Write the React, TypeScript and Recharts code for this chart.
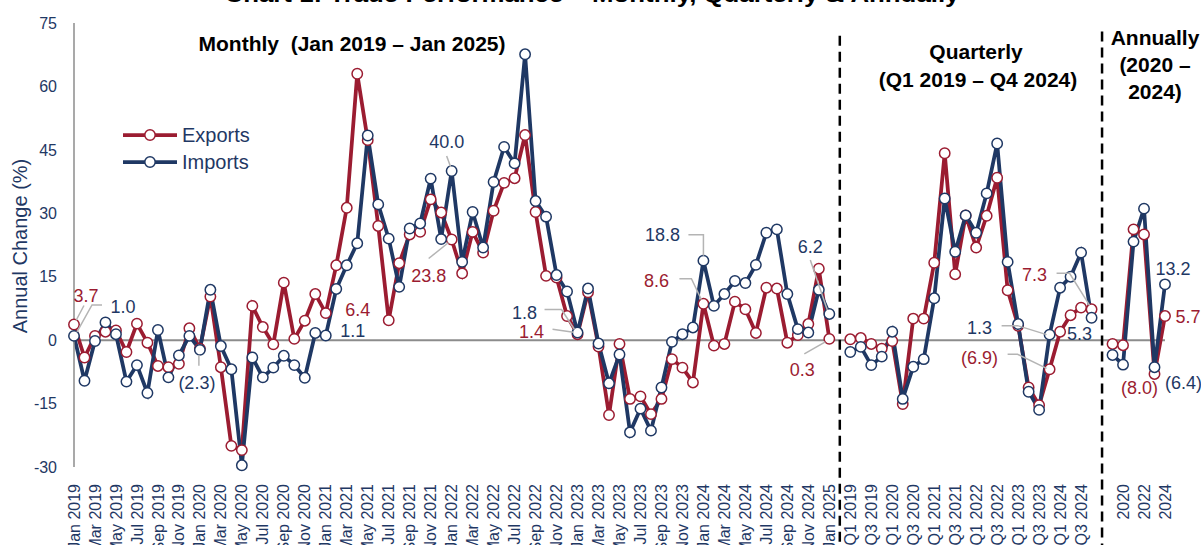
import { LineChart, Line, XAxis, YAxis, ReferenceLine, LabelList } from 'recharts'

const RED = '#9b1c31'
const NAVY = '#1f3864'
const GRID = '#8c8c8c'
const LEADER = '#b4b4b4'
const FONT = '"Liberation Sans", Arial, sans-serif'

// categories
const MONTHS = [
  'Jan 2019', 'Feb 2019', 'Mar 2019', 'Apr 2019', 'May 2019', 'Jun 2019', 'Jul 2019', 'Aug 2019', 'Sep 2019', 'Oct 2019', 'Nov 2019', 'Dec 2019',
  'Jan 2020', 'Feb 2020', 'Mar 2020', 'Apr 2020', 'May 2020', 'Jun 2020', 'Jul 2020', 'Aug 2020', 'Sep 2020', 'Oct 2020', 'Nov 2020', 'Dec 2020',
  'Jan 2021', 'Feb 2021', 'Mar 2021', 'Apr 2021', 'May 2021', 'Jun 2021', 'Jul 2021', 'Aug 2021', 'Sep 2021', 'Oct 2021', 'Nov 2021', 'Dec 2021',
  'Jan 2022', 'Feb 2022', 'Mar 2022', 'Apr 2022', 'May 2022', 'Jun 2022', 'Jul 2022', 'Aug 2022', 'Sep 2022', 'Oct 2022', 'Nov 2022', 'Dec 2022',
  'Jan 2023', 'Feb 2023', 'Mar 2023', 'Apr 2023', 'May 2023', 'Jun 2023', 'Jul 2023', 'Aug 2023', 'Sep 2023', 'Oct 2023', 'Nov 2023', 'Dec 2023',
  'Jan 2024', 'Feb 2024', 'Mar 2024', 'Apr 2024', 'May 2024', 'Jun 2024', 'Jul 2024', 'Aug 2024', 'Sep 2024', 'Oct 2024', 'Nov 2024', 'Dec 2024',
  'Jan 2025',
]
const QUARTERS = [
  'Q1 2019', 'Q2 2019', 'Q3 2019', 'Q4 2019', 'Q1 2020', 'Q2 2020', 'Q3 2020', 'Q4 2020',
  'Q1 2021', 'Q2 2021', 'Q3 2021', 'Q4 2021', 'Q1 2022', 'Q2 2022', 'Q3 2022', 'Q4 2022',
  'Q1 2023', 'Q2 2023', 'Q3 2023', 'Q4 2023', 'Q1 2024', 'Q2 2024', 'Q3 2024', 'Q4 2024',
]
const YEARS = ['2019', '2020', '2021', '2022', '2023', '2024']

// annual change (%)
const EXPORTS_M = [
  3.7, -4.1, 1.0, 2.0, 2.3, -2.8, 3.9, -0.6, -6.1, -6.4, -5.6, 2.8,
  -2.0, 10.3, -6.4, -25.0, -26.0, 8.1, 3.1, -1.0, 13.6, 0.3, 4.6, 10.9,
  6.4, 17.7, 31.3, 63.0, 47.3, 27.0, 4.7, 18.2, 25.0, 25.6, 33.3, 30.2,
  23.8, 15.8, 25.6, 20.7, 30.6, 37.2, 38.3, 48.5, 30.3, 15.2, 14.8, 5.7,
  1.4, 11.3, -1.5, -17.7, -0.9, -13.9, -13.3, -17.5, -13.9, -4.5, -6.5, -10.0,
  8.6, -1.3, -0.9, 9.1, 7.3, 1.7, 12.4, 12.2, -0.6, 1.2, 3.8, 16.9,
  0.3,
]
const IMPORTS_M = [
  1.0, -9.6, -0.2, 4.2, 1.4, -9.8, -5.9, -12.5, 2.4, -8.8, -3.6, 1.0,
  -2.3, 11.9, -1.4, -6.9, -29.6, -4.1, -8.8, -6.5, -3.7, -5.9, -8.9, 1.7,
  1.1, 12.1, 17.7, 22.9, 48.4, 32.1, 24.0, 12.6, 26.4, 27.6, 38.2, 23.9,
  40.0, 18.5, 30.3, 21.9, 37.4, 45.7, 41.8, 67.6, 32.9, 29.2, 15.4, 11.5,
  1.8, 12.2, -0.8, -10.2, -3.4, -21.8, -16.2, -21.4, -11.2, -0.4, 1.4, 3.0,
  18.8, 8.1, 10.9, 14.0, 13.5, 17.8, 25.4, 26.2, 10.9, 2.6, 1.8, 11.9,
  6.2,
]
const EXPORTS_Q = [
  0.2, 0.5, -0.9, -2.0, -0.2, -15.1, 5.1, 5.1, 18.3, 44.2, 15.6, 29.5,
  21.9, 29.4, 38.4, 11.8, 3.4, -11.2, -15.4, -6.9, 2.0, 5.9, 7.7, 7.3,
]
const IMPORTS_Q = [
  -2.8, -1.6, -5.9, -3.9, 2.0, -13.9, -6.3, -4.5, 9.9, 33.5, 20.9, 29.5,
  25.4, 34.7, 46.5, 18.5, 3.8, -12.2, -16.5, 1.3, 12.4, 15.0, 20.7, 5.3,
]
const EXPORTS_Y = [-0.9, -1.2, 26.2, 25.0, -8.0, 5.7]
const IMPORTS_Y = [-3.5, -5.8, 23.3, 31.1, -6.4, 13.2]

const Y_TICKS = [-30, -15, 0, 15, 30, 45, 60, 75]

// one category axis: months, gap, quarters, gap, years
const rows = [
  ...MONTHS.map((cat, i) => ({ cat, exports: EXPORTS_M[i], imports: IMPORTS_M[i] })),
  { cat: 'gap1', exports: null, imports: null },
  ...QUARTERS.map((cat, i) => ({ cat, exports: EXPORTS_Q[i], imports: IMPORTS_Q[i] })),
  { cat: 'gap2', exports: null, imports: null },
  ...YEARS.map((cat, i) => ({ cat, exports: EXPORTS_Y[i], imports: IMPORTS_Y[i] })),
]

type Note = { cat: string; text: string; dx: number; dy: number; leader?: [number, number][] }

// callouts, offsets in px from the point
const EXPORT_NOTES: Note[] = [
  { cat: 'Jan 2019', text: '3.7', dx: 12, dy: -29, leader: [[2, -4], [10, -19]] },
  { cat: 'Jan 2021', text: '6.4', dx: 32, dy: -3 },
  { cat: 'Jan 2022', text: '23.8', dx: -23, dy: 36, leader: [[-3, 3], [-23, 19]] },
  { cat: 'Jan 2023', text: '1.4', dx: -46, dy: -3, leader: [[-25, -5], [-4, -2]] },
  { cat: 'Jan 2024', text: '8.6', dx: -47, dy: -23, leader: [[-24, -25], [-12, -25], [-2, -4]] },
  { cat: 'Jan 2025', text: '0.3', dx: -27, dy: 31, leader: [[-25, 15], [-4, 3]] },
  { cat: 'Q4 2024', text: '7.3', dx: -57, dy: -35, leader: [[-35, -36], [-22, -36], [-2, -4]] },
  { cat: 'Q4 2023', text: '(6.9)', dx: -70, dy: -12, leader: [[-42, -15], [-32, -15], [-3, -1]] },
  { cat: '2023', text: '(8.0)', dx: -15, dy: 14 },
  { cat: '2024', text: '5.7', dx: 23, dy: 1 },
]
const IMPORT_NOTES: Note[] = [
  { cat: 'Jan 2019', text: '1.0', dx: 49, dy: -29, leader: [[3, -4], [18, -31], [28, -31]] },
  { cat: 'Jan 2020', text: '(2.3)', dx: -3, dy: 33, leader: [[-1, 5], [-1, 16]] },
  { cat: 'Jan 2021', text: '1.1', dx: 27, dy: -5 },
  { cat: 'Jan 2022', text: '40.0', dx: -5, dy: -29, leader: [[-5, -15], [-1, -4]] },
  { cat: 'Jan 2023', text: '1.8', dx: -53, dy: -20, leader: [[-33, -23], [-16, -23], [-3, -3]] },
  { cat: 'Jan 2024', text: '18.8', dx: -41, dy: -26, leader: [[-15, -26], [0, -26], [0, -5]] },
  { cat: 'Jan 2025', text: '6.2', dx: -19, dy: -67, leader: [[-19, -54], [-2, -4]] },
  { cat: 'Q4 2023', text: '1.3', dx: -70, dy: -7, leader: [[-48, -9], [-32, -9], [-3, 0]] },
  { cat: 'Q4 2024', text: '5.3', dx: -12, dy: 16 },
  { cat: '2023', text: '(6.4)', dx: 29, dy: 15 },
  { cat: '2024', text: '13.2', dx: 8, dy: -16 },
]

function noteRenderer(notes: Note[], color: string) {
  const byIndex = new Map(notes.map(n => [rows.findIndex(r => r.cat === n.cat), n]))
  return (p: any) => {
    const n = byIndex.get(p.index)
    if (!n || p.x == null || p.y == null) return null
    const x = Number(p.x)
    const y = Number(p.y)
    return (
      <g>
        {n.leader && (
          <polyline
            points={n.leader.map(([a, b]) => `${x + a},${y + b}`).join(' ')}
            fill="none" stroke={LEADER} strokeWidth={1.5}
          />
        )}
        <text x={x + n.dx} y={y + n.dy} dy="0.35em" textAnchor="middle" fill={color} fontSize={18} fontFamily={FONT}>
          {n.text}
        </text>
      </g>
    )
  }
}

function XTick(props: any) {
  const { x, y, payload } = props
  const label = String(payload.value)
  if (label.startsWith('gap')) return <g />
  return (
    <text
      x={x - 17} y={y} dy="0.35em" transform={`rotate(-90, ${x}, ${y})`}
      textAnchor="end" fill={NAVY} fontSize={16} fontFamily={FONT}
    >
      {label}
    </text>
  )
}

const dotStyle = (c: string) => ({ r: 5.2, fill: '#fff', stroke: c, strokeWidth: 1.5 })

export default function App() {
  return (
    <div style={{ position: 'absolute', left: 0, top: 0, width: 1201, height: 545, background: '#fff', fontFamily: FONT, overflow: 'hidden' }}>
      <LineChart width={1201} height={545} data={rows} margin={{ top: 23, right: 36, bottom: 0, left: 0 }}>
        <XAxis dataKey="cat" interval={1} axisLine={false} tickLine={false} tickSize={0} tickMargin={0} height={78} tick={<XTick />} />
        <YAxis
          type="number" domain={[-30, 75]} ticks={Y_TICKS} width={74} interval={0}
          tickLine={false} tickSize={0} tickMargin={17}
          axisLine={{ stroke: GRID, strokeWidth: 1.5 }}
          tick={{ fill: NAVY, fontSize: 16, fontFamily: FONT }}
        />
        <ReferenceLine y={0} stroke={GRID} strokeWidth={2} />
        <ReferenceLine segment={[{ x: 'gap1', y: 72 }, { x: 'gap1', y: -50 }]} ifOverflow="visible" stroke="#000" strokeWidth={2.5} strokeDasharray="10 6" />
        <ReferenceLine segment={[{ x: 'gap2', y: 73 }, { x: 'gap2', y: -50 }]} ifOverflow="visible" stroke="#000" strokeWidth={2.5} strokeDasharray="10 6" />
        <Line dataKey="exports" stroke={RED} strokeWidth={3.75} dot={dotStyle(RED)} activeDot={false} isAnimationActive={false}>
          <LabelList dataKey="exports" content={noteRenderer(EXPORT_NOTES, RED)} />
        </Line>
        <Line dataKey="imports" stroke={NAVY} strokeWidth={3.75} dot={dotStyle(NAVY)} activeDot={false} isAnimationActive={false}>
          <LabelList dataKey="imports" content={noteRenderer(IMPORT_NOTES, NAVY)} />
        </Line>
      </LineChart>

      <svg width={1201} height={545} style={{ position: 'absolute', left: 0, top: 0, pointerEvents: 'none' }} fontFamily={FONT}>
        <text x={592} y={2} textAnchor="middle" fontSize={22} fontWeight="bold" fill="#000" textLength={735} lengthAdjust="spacingAndGlyphs">
          Chart 1: Trade Performance – Monthly, Quarterly &amp; Annually
        </text>
        <text x={20} y={246} dy="0.35em" textAnchor="middle" transform="rotate(-90, 20, 246)" fontSize={20} fill={NAVY}>
          Annual Change (%)
        </text>

        <g fontWeight="bold" fontSize={21} fill="#000" textAnchor="middle">
          <text x={352} y={51}>{'Monthly\u00a0 (Jan 2019 – Jan 2025)'}</text>
          <text x={976} y={59}>Quarterly</text>
          <text x={978} y={87}>(Q1 2019 – Q4 2024)</text>
          <text x={1155} y={45}>Annually</text>
          <text x={1155} y={72}>(2020 –</text>
          <text x={1155} y={99}>2024)</text>
        </g>

        <g>
          <line x1={123} x2={177} y1={135} y2={135} stroke={RED} strokeWidth={3.75} />
          <circle cx={150} cy={135} r={5.2} fill="#fff" stroke={RED} strokeWidth={1.5} />
          <text x={182} y={135} dy="0.35em" fontSize={20} fill={NAVY}>Exports</text>
          <line x1={123} x2={177} y1={162} y2={162} stroke={NAVY} strokeWidth={3.75} />
          <circle cx={150} cy={162} r={5.2} fill="#fff" stroke={NAVY} strokeWidth={1.5} />
          <text x={182} y={162} dy="0.35em" fontSize={20} fill={NAVY}>Imports</text>
        </g>
      </svg>
    </div>
  )
}
